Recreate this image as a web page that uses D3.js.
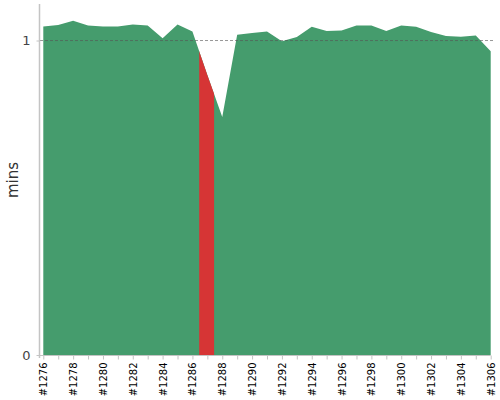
<!DOCTYPE html>
<html><head><meta charset="utf-8">
<script src="https://cdn.jsdelivr.net/npm/d3@7"></script>
<style>body{margin:0;background:#fff}svg{display:block;font-family:"DejaVu Sans",sans-serif}</style>
</head><body><svg id="c" width="500" height="400"></svg>
<script>
const builds = ["#1276","#1277","#1278","#1279","#1280","#1281","#1282","#1283","#1284","#1285","#1286","#1287","#1288","#1289","#1290","#1291","#1292","#1293","#1294","#1295","#1296","#1297","#1298","#1299","#1300","#1301","#1302","#1303","#1304","#1305","#1306"];
const durations = [1.045,1.049,1.063,1.048,1.045,1.045,1.051,1.048,1.007,1.051,1.029,0.89,0.757,1.018,1.024,1.029,0.998,1.011,1.044,1.030,1.032,1.048,1.048,1.030,1.048,1.044,1.027,1.014,1.012,1.016,0.966];
const failed = ["#1287"];
const yTicks = [0, 1];
const refLine = 1;

const svg = d3.select("#c");
const x = d3.scalePoint().domain(builds).range([43.3, 490.7]);
const y = d3.scaleLinear().domain([0, d3.max(durations) * 1.05]).range([355, 4]);
const data = builds.map((b, i) => ({b, v: durations[i]}));
const step = x.step();

const area = d3.area().x(d => x(d.b)).y0(y(0)).y1(d => y(d.v));

svg.append("path").datum(data).attr("d", area).attr("fill", "#459c6d");

const defs = svg.append("defs");
failed.forEach((f, i) => {
  defs.append("clipPath").attr("id", "clip" + i)
    .append("rect").attr("x", x(f) - step / 2 - 0.7).attr("width", step).attr("y", 0).attr("height", 400);
  svg.append("path").datum(data).attr("d", area).attr("fill", "#d63535").attr("clip-path", `url(#clip${i})`);
});

// reference dashed line
svg.append("line").attr("x1", 40).attr("x2", 495).attr("y1", y(refLine)).attr("y2", y(refLine))
  .attr("stroke", "#555").attr("stroke-dasharray", "3,2").attr("stroke-width", 1).attr("opacity", 0.6);

// y axis
const ya = svg.append("g").attr("transform", "translate(39.5,0)")
  .call(d3.axisLeft(y).tickValues(yTicks).tickFormat(d3.format("d")).tickSize(3).tickPadding(6));
ya.select(".domain").attr("stroke", "#c4c4c4").attr("stroke-width", 1.5).attr("d", `M0,${y.range()[1]}V${y(0) + 3}`);
ya.selectAll(".tick line").attr("stroke", "#c4c4c4");
ya.selectAll("text").attr("font-size", 13).attr("fill", "#444").attr("font-family", "DejaVu Sans");

// x axis
const xa = svg.append("g").attr("transform", "translate(0,355.5)")
  .call(d3.axisBottom(x).tickSize(4).tickSizeOuter(0).tickPadding(4));
xa.select(".domain").attr("stroke", "#c4c4c4").attr("d", `M39.5,0H${x.range()[1]}`);
xa.selectAll(".tick line").attr("stroke", "#c4c4c4");
xa.selectAll(".tick text")
  .text((d, i) => i % 2 === 0 ? d : "")
  .attr("transform", "rotate(-90)").attr("text-anchor", "end")
  .attr("x", -7).attr("y", 0).attr("dy", "0.35em")
  .attr("font-size", 10).attr("fill", "#000").attr("font-family", "DejaVu Sans");

svg.append("text").attr("transform", "translate(13,180) rotate(-90)").attr("text-anchor", "middle")
  .attr("dy", "0.35em").attr("font-size", 15).attr("fill", "#333").text("mins");
</script></body></html>
